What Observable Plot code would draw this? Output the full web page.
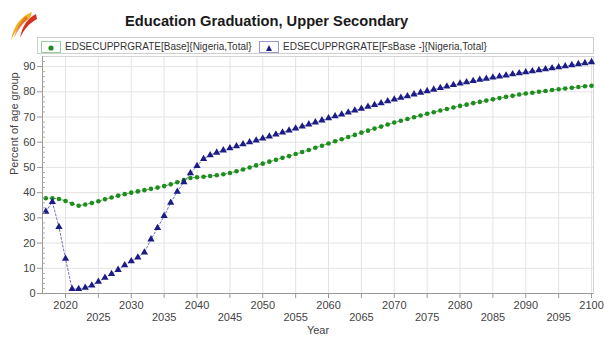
<!DOCTYPE html>
<html><head><meta charset="utf-8">
<script src="https://cdn.jsdelivr.net/npm/d3@7"></script>
<script src="https://cdn.jsdelivr.net/npm/@observablehq/plot@0.6"></script>
<style>
body{margin:0;background:#fff;font-family:"Liberation Sans",Arial,sans-serif;}
#wrap{position:relative;width:604px;height:338px;overflow:hidden;background:#fff;}
#chart{position:absolute;left:0;top:0;}
#title{position:absolute;left:125px;width:282px;top:13px;text-align:center;font-weight:bold;font-size:14.7px;color:#1a1a1a;white-space:nowrap;}
#legend{position:absolute;left:37px;top:37px;width:555px;height:15px;border:1px solid #cfcfcf;background:#fff;font-size:10px;color:#333;}
.item{position:absolute;top:1px;height:15px;line-height:15px;white-space:nowrap;}
.icon{position:absolute;top:2px;width:18px;height:10px;border:1px solid #bbb;}
.lab{position:absolute;top:0;left:24px;}
#logo{position:absolute;left:8px;top:10px;}
</style></head>
<body><div id="wrap">
<svg id="logo" width="30" height="32" viewBox="0 0 30 32">
  <path d="M24 2 C14 6 6 14 3 30 C7 22 12 14 22 8 Z" fill="#f0b020"/>
  <path d="M28 4 C20 8 14 16 12 28 C16 20 20 14 29 9 Z" fill="#d83020"/>
  <path d="M18 6 C12 12 8 20 6 28 C10 20 14 14 20 9 Z" fill="#e06020" opacity="0.7"/>
</svg>
<div id="title">Education Graduation, Upper Secondary</div>
<div id="chart"></div>
<div id="legend">
  <div class="item" style="left:3px"><div class="icon" style="border-color:#9c9"><svg width="18" height="10"><circle cx="9" cy="5" r="2.6" fill="#1e8c1e"/></svg></div><span class="lab">EDSECUPPRGRATE[Base]{Nigeria,Total}</span></div>
  <div class="item" style="left:221px"><div class="icon" style="border-color:#99c"><svg width="18" height="10"><path d="M9,2 L12,8 L6,8 Z" fill="#1c1c85"/></svg></div><span class="lab">EDSECUPPRGRATE[FsBase -]{Nigeria,Total}</span></div>
</div>
</div>
<script>
const startYear = 2017;
const baseValues = [37.8,37.8,37.5,36.7,35.6,34.8,35.3,35.9,36.6,37.4,38.1,38.8,39.4,40.0,40.5,41.0,41.5,42.0,42.6,43.3,44.1,45.0,45.8,46.1,46.3,46.6,46.9,47.3,47.8,48.5,49.2,50.0,50.8,51.5,52.3,53.0,53.8,54.5,55.3,56.1,56.9,57.8,58.6,59.5,60.4,61.2,62.1,62.9,63.8,64.6,65.4,66.2,67.0,67.8,68.5,69.2,69.9,70.6,71.3,71.9,72.6,73.2,73.8,74.4,74.9,75.5,76.0,76.5,77.0,77.5,78.0,78.4,78.9,79.3,79.6,80.0,80.3,80.7,81.0,81.3,81.6,81.9,82.2,82.4];
const fsValues = [32.5,36.3,26.4,13.8,1.8,1.8,2.3,3.2,4.7,6.3,7.8,9.4,11.2,12.8,14.3,16.3,21.5,26.0,30.8,36.0,40.4,44.2,47.7,50.6,53.4,54.9,55.9,56.8,57.6,58.4,59.2,60.0,60.7,61.5,62.3,63.1,63.9,64.7,65.5,66.3,67.1,67.9,68.7,69.5,70.3,71.0,71.8,72.6,73.3,74.1,74.8,75.5,76.3,77.0,77.7,78.3,79.0,79.7,80.3,80.9,81.5,82.1,82.7,83.3,83.8,84.3,84.8,85.2,85.7,86.1,86.5,87.0,87.4,87.8,88.2,88.6,89.0,89.4,89.8,90.2,90.6,91.0,91.4,91.8];
const xTicksUpper = [2020,2030,2040,2050,2060,2070,2080,2090,2100];
const xTicksLower = [2025,2035,2045,2055,2065,2075,2085,2095];
const yTicks = [0,10,20,30,40,50,60,70,80,90];
const yMinor = [2,4,6,8,12,14,16,18,22,24,26,28,32,34,36,38,42,44,46,48,52,54,56,58,62,64,66,68,72,74,76,78,82,84,86,88,92];

const base = baseValues.map((v,i)=>({year:startYear+i, value:v}));
const fs = fsValues.map((v,i)=>({year:startYear+i, value:v}));
const xMin = 2016.5, xMax = 2100.3;

const chart = Plot.plot({
  width: 604, height: 338,
  marginLeft: 42, marginRight: 11, marginTop: 56, marginBottom: 45,
  style: {fontFamily: "Liberation Sans, Arial, sans-serif", fontSize: "11px", color: "#444", background: "transparent"},
  x: {domain: [xMin, xMax], axis: null},
  y: {domain: [0, 94], axis: null},
  marks: [
    Plot.gridX([...xTicksUpper, ...xTicksLower], {stroke: "#e4e4e4", strokeOpacity: 1}),
    Plot.gridY(yTicks.slice(1), {stroke: "#e4e4e4", strokeOpacity: 1}),
    Plot.frame({stroke: "#d4d4d4"}),
    Plot.ruleY([0], {stroke: "#999"}),
    Plot.ruleX([xMin], {stroke: "#999"}),
    Plot.line(base, {x: "year", y: "value", stroke: "#4ca64c", strokeWidth: 1, strokeDasharray: "2,2"}),
    Plot.line(fs, {x: "year", y: "value", stroke: "#7070c0", strokeWidth: 1, strokeDasharray: "2,2"}),
    Plot.dot(base, {x: "year", y: "value", r: 2.3, fill: "#1e8c1e"}),
    Plot.dot(fs, {x: "year", y: "value", symbol: "triangle", r: 2.7, fill: "#1c1c85"}),
    Plot.axisX(xTicksUpper, {tickSize: 5, tickPadding: 3, stroke: "#999", fill: "#444", fontSize: 11, label: null, tickFormat: d => String(d)}),
    Plot.axisX(xTicksLower, {tickSize: 5, tickPadding: 15, stroke: "#999", fill: "#444", fontSize: 11, label: null, tickFormat: d => String(d)}),
    Plot.axisY(yTicks, {tickSize: 5, tickPadding: 2, stroke: "#999", fill: "#444", fontSize: 11, label: null}),
    Plot.axisY(yMinor, {tickSize: 3, dx: 3, stroke: "#aaa", label: null, tickFormat: () => ""}),
    Plot.text(["Year"], {frameAnchor: "bottom", dy: 40, fill: "#444", fontSize: 11}),
    Plot.text(["Percent of age group"], {frameAnchor: "left", dx: -28, rotate: -90, fill: "#444", fontSize: 11})
  ]
});
document.getElementById("chart").appendChild(chart);
</script>
</body></html>
